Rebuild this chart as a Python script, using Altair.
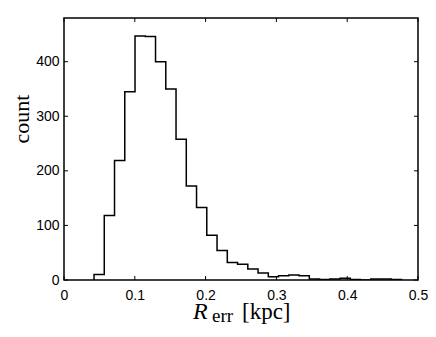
import altair as alt
import pandas as pd

# Histogram of R_err (kpc): 30 bins
bin_start = 0.0424
bin_width = 0.01448
counts = [10, 118, 219, 345, 447, 446, 400, 350, 258, 172,
          133, 82, 54, 32, 29, 20, 13, 6, 8, 9,
          8, 2, 1, 2, 3, 1, 0, 2, 2, 1]

x_ticks = [0, 0.1, 0.2, 0.3, 0.4, 0.5]
y_ticks = [0, 100, 200, 300, 400]

edges = [bin_start + bin_width * i for i in range(len(counts) + 1)]
xs = [edges[0]] + edges[:-1] + [edges[-1], edges[-1]]
ys = [0] + counts + [counts[-1], 0]
hist = pd.DataFrame({"x": xs, "y": ys, "order": list(range(len(xs)))})

W, H = 354, 262
xscale = alt.Scale(domain=[0, 0.5], nice=False)
yscale = alt.Scale(domain=[0, 480], nice=False)

line = alt.Chart(hist).mark_line(
    interpolate="step-after", color="black", strokeWidth=1.5, clip=True
).encode(
    x=alt.X("x:Q", scale=xscale,
            axis=alt.Axis(values=x_ticks, title=None, tickSize=0, domain=False,
                          grid=False, labelFont="Liberation Sans", labelFontSize=14,
                          labelColor="black", labelPadding=8, format="~g",
                          labelFlush=False)),
    y=alt.Y("y:Q", scale=yscale,
            axis=alt.Axis(values=y_ticks, title=None, tickSize=0, domain=False,
                          grid=False, labelFont="Liberation Sans", labelFontSize=14,
                          labelColor="black", labelPadding=5, labelFlush=False)),
    order="order:Q",
)

xt = pd.DataFrame({"v": x_ticks})
yt = pd.DataFrame({"v": y_ticks})
tick_len = 4

xticks_bottom = alt.Chart(xt).mark_rule(color="black", strokeWidth=1).encode(
    x=alt.X("v:Q", scale=xscale), y=alt.value(H), y2=alt.value(H - tick_len))
xticks_top = alt.Chart(xt).mark_rule(color="black", strokeWidth=1).encode(
    x=alt.X("v:Q", scale=xscale), y=alt.value(0), y2=alt.value(tick_len))
yticks_left = alt.Chart(yt).mark_rule(color="black", strokeWidth=1).encode(
    y=alt.Y("v:Q", scale=yscale), x=alt.value(0), x2=alt.value(tick_len))
yticks_right = alt.Chart(yt).mark_rule(color="black", strokeWidth=1).encode(
    y=alt.Y("v:Q", scale=yscale), x=alt.value(W), x2=alt.value(W - tick_len))

lab = pd.DataFrame({"a": [0]})
r_txt = alt.Chart(lab).mark_text(
    text="R", font="Liberation Serif", fontStyle="italic", fontSize=24,
    align="left", baseline="alphabetic", color="black"
).encode(x=alt.value(129), y=alt.value(301))
err_txt = alt.Chart(lab).mark_text(
    text="err", font="Liberation Serif", fontSize=19,
    align="left", baseline="alphabetic", color="black"
).encode(x=alt.value(148), y=alt.value(304))
kpc_txt = alt.Chart(lab).mark_text(
    text="[kpc]", font="Liberation Serif", fontSize=23,
    align="left", baseline="alphabetic", color="black"
).encode(x=alt.value(178), y=alt.value(301))
count_txt = alt.Chart(lab).mark_text(
    text="count", font="Liberation Serif", fontSize=22, angle=270,
    align="center", baseline="middle", color="black"
).encode(x=alt.value(-42), y=alt.value(101))

chart = alt.layer(
    line, xticks_bottom, xticks_top, yticks_left, yticks_right,
    r_txt, err_txt, kpc_txt, count_txt
).properties(
    width=W, height=H,
    background="white",
    autosize=alt.AutoSizeParams(type="none"),
    padding={"left": 56, "top": 10, "right": 10, "bottom": 50},
).configure_view(
    stroke="black", strokeWidth=1.5
)

chart.save("out.html", embed_options={"renderer": "svg", "actions": False})
